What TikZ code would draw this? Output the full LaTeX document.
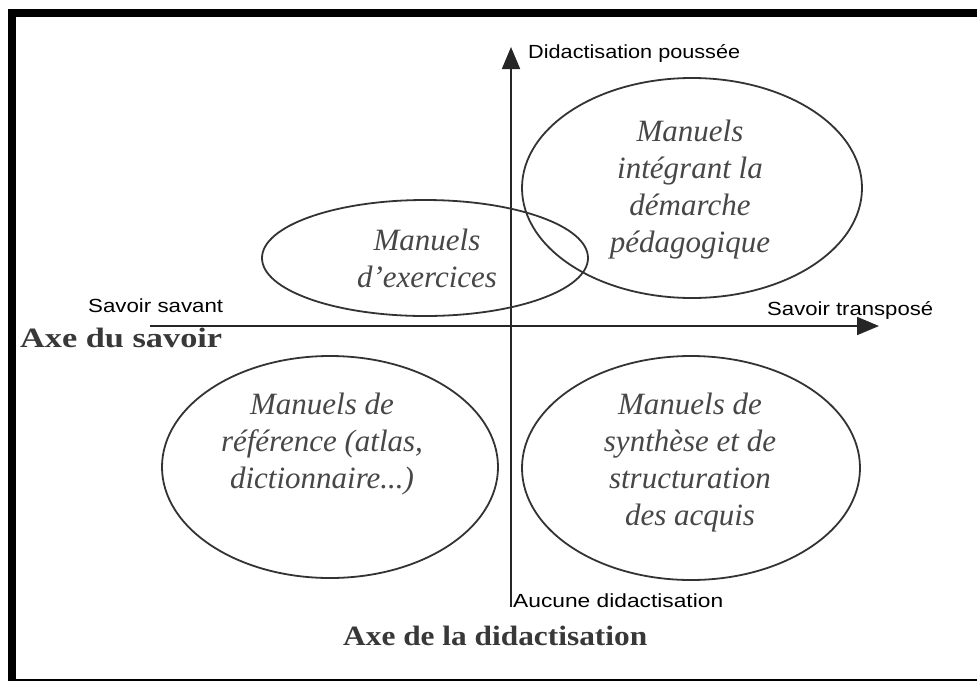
\documentclass[tikz,border=0pt]{standalone}
\usepackage{fontspec}
\usepackage{graphicx}
\setmainfont{Liberation Serif}
\setsansfont{Liberation Sans}
\usetikzlibrary{arrows.meta}
\newcommand\stretchlab[2]{\resizebox{#1}{\height}{#2}}
\begin{document}
\begin{tikzpicture}[x=1pt,y=-1pt,
  ell/.style={draw=black!80, line width=1.8pt},
  itxt/.style={font=\fontsize{31}{37}\selectfont\itshape, text=black!72, align=center, inner sep=0pt},
  lab/.style={font=\fontsize{19}{19}\selectfont\sffamily, inner sep=0pt, anchor=base west},
  axlab/.style={font=\fontsize{28}{28}\selectfont\bfseries, text=black!78, inner sep=0pt, anchor=base west},
  axis/.style={line width=1.8pt, draw=black!85, -{Triangle[length=22pt,width=18pt]}}]
\useasboundingbox (0,0) rectangle (977,681);
\fill[white] (0,0) rectangle (977,681);
% frame
\draw[line width=8pt] (12,681) -- (12,13) -- (977,13);
\draw[line width=1.5pt] (8,680) -- (977,680);
% axes
\coordinate (vb) at (511,607);
\coordinate (vt) at (511,47);
\coordinate (hl) at (150,326);
\coordinate (hr) at (879,326);
\draw[axis] (vb) -- (vt);
\draw[axis] (hl) -- (hr);
% ellipses
\draw[ell] (692,188) ellipse [x radius=170, y radius=110];
\draw[ell] (425,258) ellipse [x radius=163, y radius=58];
\draw[ell] (330,467) ellipse [x radius=168, y radius=111];
\draw[ell] (691,468) ellipse [x radius=169, y radius=112];
% ellipse texts
\node[itxt] (tTR) at (690,190) {Manuels\\intégrant la\\démarche\\pédagogique};
\node[itxt] (tMid) at (427,258) {Manuels\\d'exercices};
\node[itxt] (tBL) at (322,444) {Manuels de\\référence (atlas,\\dictionnaire...)};
\node[itxt] (tBR) at (690,463) {Manuels de\\synthèse et de\\structuration\\des acquis};
% axis labels
\node[lab] (lTop) at (528,58) {\stretchlab{212pt}{Didactisation poussée}};
\node[lab] (lLeft) at (88,312) {\stretchlab{135pt}{Savoir savant}};
\node[lab] (lRight) at (767,315) {\stretchlab{166pt}{Savoir transposé}};
\node[lab] (lBot) at (513,607) {\stretchlab{210pt}{Aucune didactisation}};
\node[axlab] (aH) at (20,347) {\stretchlab{202pt}{Axe du savoir}};
\node[axlab] (aV) at (343,645) {\stretchlab{304pt}{Axe de la didactisation}};
\end{tikzpicture}
\end{document}
